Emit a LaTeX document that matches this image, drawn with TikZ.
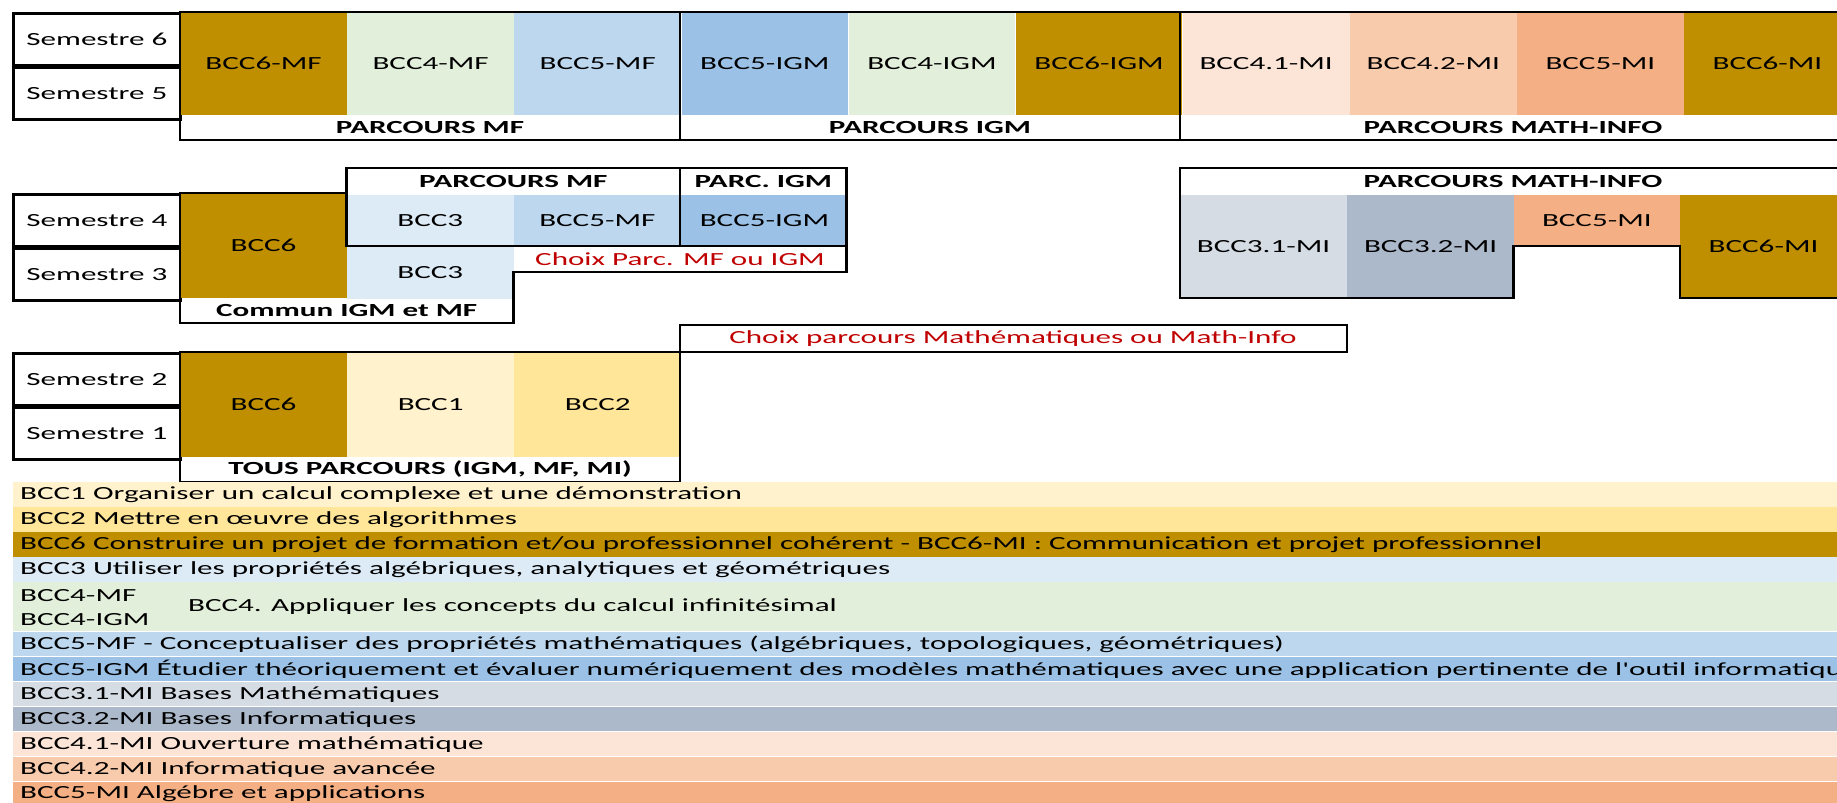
\documentclass[tikz,border=0pt]{standalone}
\usepackage{fontspec}
\setmainfont{Carlito}
\usepackage{graphicx}
\usetikzlibrary{positioning}
\definecolor{bcconebg}{HTML}{FFF2CC}
\definecolor{bcctwobg}{HTML}{FFE699}
\definecolor{bccthreebg}{HTML}{DDEBF7}
\definecolor{bccfourbg}{HTML}{E2EFDA}
\definecolor{bccfivemf}{HTML}{BDD7EE}
\definecolor{bccfiveigm}{HTML}{9BC2E6}
\definecolor{bccsixbg}{HTML}{BF8F00}
\definecolor{mithreeone}{HTML}{D6DCE4}
\definecolor{mithreetwo}{HTML}{ACB9CA}
\definecolor{mifourone}{HTML}{FCE4D6}
\definecolor{mifourtwo}{HTML}{F8CBAD}
\definecolor{mifive}{HTML}{F4B084}
\definecolor{choixred}{HTML}{C00000}
\newcommand{\wide}[1]{\scalebox{1.68}[1]{#1}}
\newcommand{\cellfont}{\fontsize{18.5}{21}\selectfont}

\begin{document}
\begin{tikzpicture}[
  x=1pt, y=-1pt,
  cellbox/.style={rectangle, fill=#1, inner sep=0pt, minimum width=166.7pt, font=\cellfont},
  sembox/.style={rectangle, draw=black, line width=2.8pt, fill=white, inner sep=0pt, minimum width=167pt, minimum height=51.5pt, font=\cellfont},
  tagtext/.style={font=\cellfont\bfseries, inner sep=0pt},
  choixtext/.style={font=\cellfont, text=choixred, inner sep=0pt},
  keyrow/.style={rectangle, fill=#1, inner sep=0pt, minimum width=1834pt, minimum height=24.6pt},
  keytext/.style={font=\cellfont, inner sep=0pt, anchor=west},
  border/.style={line width=2.8pt, line join=miter}
]
  \useasboundingbox (0,0) rectangle (1837,803);
  \clip (0,0) rectangle (1837,803);

  % Semestres 5 et 6
  \node[sembox, anchor=north west] (semsix) at (12,12) {\wide{Semestre 6}};
  \node[sembox, below=0pt of semsix] (semfive) {\wide{Semestre 5}};
  \node[cellbox=bccsixbg, minimum height=103pt, anchor=north west] (sixmf) at (180,12) {\wide{BCC6-MF}};
  \node[cellbox=bccfourbg, minimum height=103pt, right=0pt of sixmf] (fourmf) {\wide{BCC4-MF}};
  \node[cellbox=bccfivemf, minimum height=103pt, right=0pt of fourmf] (fivemf) {\wide{BCC5-MF}};
  \node[cellbox=bccfiveigm, minimum height=103pt, right=0pt of fivemf] (fiveigm) {\wide{BCC5-IGM}};
  \node[cellbox=bccfourbg, minimum height=103pt, right=0pt of fiveigm] (fourigm) {\wide{BCC4-IGM}};
  \node[cellbox=bccsixbg, minimum height=103pt, right=0pt of fourigm] (sixigm) {\wide{BCC6-IGM}};
  \node[cellbox=mifourone, minimum height=103pt, right=0pt of sixigm] (fouronemi) {\wide{BCC4.1-MI}};
  \node[cellbox=mifourtwo, minimum height=103pt, right=0pt of fouronemi] (fourtwomi) {\wide{BCC4.2-MI}};
  \node[cellbox=mifive, minimum height=103pt, right=0pt of fourtwomi] (fivemi) {\wide{BCC5-MI}};
  \node[cellbox=bccsixbg, minimum height=103pt, right=0pt of fivemi] (sixmi) {\wide{BCC6-MI}};
  \node[tagtext] (tagmf) at (430,127.5) {\wide{PARCOURS MF}};
  \node[tagtext] (tagigm) at (930,127.5) {\wide{PARCOURS IGM}};
  \node[tagtext] (tagmi) at (1513,127.5) {\wide{PARCOURS MATH-INFO}};
  \draw[border] (180,12) rectangle (1847,140);
  \draw[border] (680,12) -- (680,140);
  \draw[border] (1180,12) -- (1180,140);

  % Semestres 3 et 4
  \node[sembox, anchor=north west] (semfour) at (12,193) {\wide{Semestre 4}};
  \node[sembox, below=0pt of semfour] (semthree) {\wide{Semestre 3}};
  \node[cellbox=bccsixbg, minimum height=105pt, anchor=north west] (sixmid) at (180,193) {\wide{BCC6}};
  \node[cellbox=bccthreebg, minimum height=51pt, anchor=north west] (threefour) at (346.7,195) {\wide{BCC3}};
  \node[cellbox=bccfivemf, minimum height=51pt, right=0pt of threefour] (fivemfmid) {\wide{BCC5-MF}};
  \node[cellbox=bccfiveigm, minimum height=51pt, right=0pt of fivemfmid] (fiveigmmid) {\wide{BCC5-IGM}};
  \node[cellbox=bccthreebg, minimum height=52pt, below=0pt of threefour] (threethree) {\wide{BCC3}};
  \node[tagtext] (midmf) at (513.3,181.5) {\wide{PARCOURS MF}};
  \node[tagtext] (midigm) at (763.3,181.5) {\wide{PARC. IGM}};
  \node[tagtext] (commun) at (346.7,310.5) {\wide{Commun IGM et MF}};
  \node[choixtext] (choixmfigm) at (680,259) {\wide{Choix Parc. MF ou IGM}};
  \draw[border] (180,193) -- (346.7,193) -- (346.7,168) -- (846.7,168) -- (846.7,272)
    -- (513.3,272) -- (513.3,323) -- (180,323) -- cycle;
  \draw[border] (346.7,168) -- (346.7,246) -- (846.7,246);
  \draw[border] (680,168) -- (680,246);

  % Math-Info semestres 3 et 4
  \node[cellbox=mithreeone, minimum height=103pt, anchor=north west] (threeonemi) at (1180,195) {\wide{BCC3.1-MI}};
  \node[cellbox=mithreetwo, minimum height=103pt, right=0pt of threeonemi] (threetwomi) {\wide{BCC3.2-MI}};
  \node[cellbox=mifive, minimum height=51pt, anchor=north west] (fivemimid) at (1513.3,195) {\wide{BCC5-MI}};
  \node[cellbox=bccsixbg, minimum height=103pt, anchor=north west] (sixmimid) at (1680,195) {\wide{BCC6-MI}};
  \node[tagtext] (midmi) at (1513,181.5) {\wide{PARCOURS MATH-INFO}};
  \draw[border] (1847,168) -- (1180,168) -- (1180,298) -- (1513.3,298) -- (1513.3,246)
    -- (1680,246) -- (1680,298) -- (1847,298);

  % Semestres 1 et 2
  \node[sembox, anchor=north west] (semtwo) at (12,352) {\wide{Semestre 2}};
  \node[sembox, below=0pt of semtwo] (semone) {\wide{Semestre 1}};
  \node[cellbox=bccsixbg, minimum height=105pt, anchor=north west] (sixlow) at (180,352) {\wide{BCC6}};
  \node[cellbox=bcconebg, minimum height=105pt, right=0pt of sixlow] (onelow) {\wide{BCC1}};
  \node[cellbox=bcctwobg, minimum height=105pt, right=0pt of onelow] (twolow) {\wide{BCC2}};
  \node[tagtext] (tous) at (430,469.5) {\wide{TOUS PARCOURS (IGM, MF, MI)}};
  \node[choixtext] (choixmi) at (1013,338.5) {\wide{Choix parcours Mathématiques ou Math-Info}};
  \draw[border] (180,352) rectangle (680,482);
  \draw[border] (680,325) rectangle (1347,352);

  % Legende
  \node[keyrow=bcconebg, anchor=north west] (kone) at (13,482) {};
  \node[keyrow=bcctwobg, below=0pt of kone] (ktwo) {};
  \node[keyrow=bccsixbg, below=0pt of ktwo] (ksix) {};
  \node[keyrow=bccthreebg, below=0pt of ksix] (kthree) {};
  \node[keyrow=bccfourbg, minimum height=49.2pt, below=0pt of kthree] (kfour) {};
  \node[keyrow=bccfivemf, below=0pt of kfour] (kfivemf) {};
  \node[keyrow=bccfiveigm, below=0pt of kfivemf] (kfiveigm) {};
  \node[keyrow=mithreeone, below=0pt of kfiveigm] (kthreeone) {};
  \node[keyrow=mithreetwo, below=0pt of kthreeone] (kthreetwo) {};
  \node[keyrow=mifourone, below=0pt of kthreetwo] (kfourone) {};
  \node[keyrow=mifourtwo, below=0pt of kfourone] (kfourtwo) {};
  \node[keyrow=mifive, below=0pt of kfourtwo] (kfivemi) {};

  \node[keytext] at ([xshift=7pt]kone.west) {\wide{BCC1 Organiser un calcul complexe et une démonstration}};
  \node[keytext] at ([xshift=7pt]ktwo.west) {\wide{BCC2 Mettre en œuvre des algorithmes}};
  \node[keytext] at ([xshift=7pt]ksix.west) {\wide{BCC6 Construire un projet de formation et/ou professionnel cohérent - BCC6-MI : Communication et projet professionnel}};
  \node[keytext] at ([xshift=7pt]kthree.west) {\wide{BCC3 Utiliser les propriétés algébriques, analytiques et géométriques}};
  \node[keytext] (kfourmf) at (20,596) {\wide{BCC4-MF}};
  \node[keytext] (kfourigm) at (20,620) {\wide{BCC4-IGM}};
  \node[keytext] at ([xshift=175pt]kfour.west) {\wide{BCC4. Appliquer les concepts du calcul infinitésimal}};
  \node[keytext] at ([xshift=7pt]kfivemf.west) {\wide{BCC5-MF - Conceptualiser des propriétés mathématiques (algébriques, topologiques, géométriques)}};
  \node[keytext] at ([xshift=7pt]kfiveigm.west) {\wide{BCC5-IGM Étudier théoriquement et évaluer numériquement des modèles mathématiques avec une application pertinente de l\textquotesingle outil informatique}};
  \node[keytext] at ([xshift=7pt]kthreeone.west) {\wide{BCC3.1-MI Bases Mathématiques}};
  \node[keytext] at ([xshift=7pt]kthreetwo.west) {\wide{BCC3.2-MI Bases Informatiques}};
  \node[keytext] at ([xshift=7pt]kfourone.west) {\wide{BCC4.1-MI Ouverture mathématique}};
  \node[keytext] at ([xshift=7pt]kfourtwo.west) {\wide{BCC4.2-MI Informatique avancée}};
  \node[keytext] at ([xshift=7pt]kfivemi.west) {\wide{BCC5-MI Algébre et applications}};
\end{tikzpicture}
\end{document}
